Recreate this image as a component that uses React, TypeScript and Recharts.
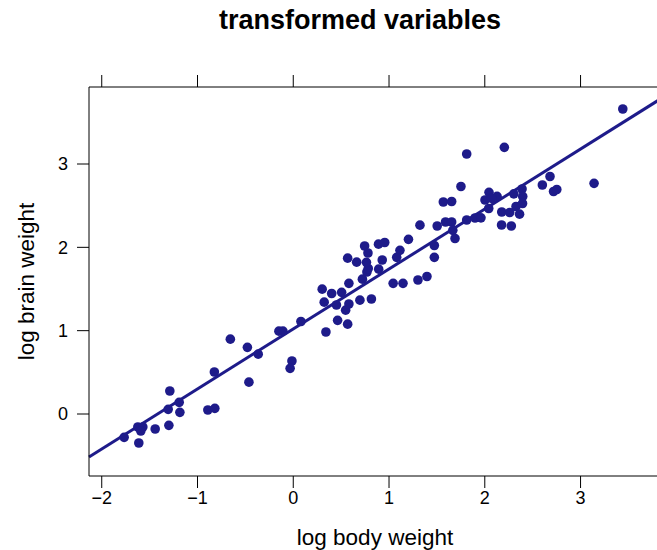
import {
  ScatterChart,
  Scatter,
  XAxis,
  YAxis,
  ReferenceLine,
} from "recharts";

// log10 body weight (kg) and log10 brain weight (g)
const logBody = [
  -1.766, -1.613, -1.623, -1.571, -1.592, -1.442, -1.299, -1.306, -1.289, -1.191,
  -1.184, -0.892, -0.819, -0.824, -0.657, -0.479, -0.366, -0.463, -0.15, -0.108,
  -0.014, -0.033, 0.08, 0.341, 0.463, 0.568, 0.547, 0.581, 0.451, 0.323,
  0.302, 0.401, 0.505, 0.581, 0.696, 0.816, 0.722, 0.769, 0.783, 0.764,
  0.662, 0.568, 0.745, 0.78, 0.89, 0.955, 0.892, 0.929, 1.043, 1.146,
  1.08, 1.114, 1.203, 1.302, 1.396, 1.323, 1.473, 1.473, 1.503, 1.567,
  1.654, 1.59, 1.654, 1.666, 1.689, 1.751, 1.811, 1.898, 1.96, 2.002,
  2.044, 2.041, 2.128, 2.072, 2.177, 2.26, 2.175, 2.277, 2.303, 2.326,
  2.363, 2.389, 2.396, 2.394, 2.601, 2.681, 2.718, 2.752, 3.141, 3.441,
  2.204, 1.811,
];

const logBrain = [
  -0.28, -0.348, -0.156, -0.156, -0.204, -0.18, -0.136, 0.056, 0.276, 0.14,
  0.02, 0.048, 0.068, 0.504, 0.898, 0.8, 0.718, 0.382, 0.994, 0.994,
  0.636, 0.548, 1.11, 0.984, 1.124, 1.078, 1.246, 1.32, 1.308, 1.342,
  1.498, 1.446, 1.46, 1.568, 1.366, 1.38, 1.618, 1.704, 1.746, 1.82,
  1.822, 1.87, 2.016, 1.932, 2.038, 2.058, 1.738, 1.848, 1.568, 1.568,
  1.88, 1.964, 2.096, 1.608, 1.65, 2.266, 2.022, 1.88, 2.256, 2.544,
  2.55, 2.304, 2.304, 2.204, 2.106, 2.73, 2.328, 2.352, 2.354, 2.568,
  2.66, 2.466, 2.612, 2.588, 2.424, 2.418, 2.268, 2.256, 2.642, 2.49,
  2.398, 2.7, 2.61, 2.526, 2.748, 2.85, 2.67, 2.694, 2.768, 3.66,
  3.2, 3.12,
];

// least squares fit drawn over the points
const fitIntercept = 1.02;
const fitSlope = 0.72;

const xTicks = [-2, -1, 0, 1, 2, 3];
const yTicks = [0, 1, 2, 3];
const xDomain: [number, number] = [-2.133, 3.84];
const yDomain: [number, number] = [-0.744, 3.924];

const points = logBody.map((x, i) => ({ x, y: logBrain[i] }));

const ink = "#1e1b8a";
const font = "'Liberation Sans', Arial, Helvetica, sans-serif";

const fmt = (v: number) => (v < 0 ? `\u2212${Math.abs(v)}` : `${v}`);

const Dot = (props: any) => {
  const { cx, cy } = props;
  return <circle cx={cx} cy={cy} r={4.8} fill={ink} />;
};

const NoTick = () => <g />;

export default function App() {
  const lineStart = { x: xDomain[0], y: fitIntercept + fitSlope * xDomain[0] };
  const lineEnd = { x: xDomain[1], y: fitIntercept + fitSlope * xDomain[1] };

  return (
    <div
      style={{
        position: "absolute",
        left: 0,
        top: 0,
        width: 657,
        height: 550,
        overflow: "hidden",
        background: "#fff",
        fontFamily: font,
      }}
    >
      <div
        style={{
          position: "absolute",
          left: 0,
          top: 7,
          width: 720,
          textAlign: "center",
          fontSize: 27,
          lineHeight: "27px",
          fontWeight: "bold",
          color: "#000",
        }}
      >
        transformed variables
      </div>
      <ScatterChart
        width={700}
        height={550}
        margin={{ top: 75, right: 39, bottom: 0, left: 8 }}
        style={{ position: "absolute", left: 0, top: 0, fontFamily: font }}
      >
        <XAxis
          xAxisId={0}
          type="number"
          dataKey="x"
          domain={xDomain}
          allowDataOverflow
          ticks={xTicks}
          tickFormatter={fmt}
          height={74}
          tickSize={12}
          tickMargin={3}
          stroke="#000"
          tick={{ fontSize: 18, fill: "#000" }}
          label={{
            value: "log body weight",
            position: "insideBottom",
            offset: 5,
            fontSize: 22.5,
            fill: "#000",
          }}
        />
        <XAxis
          xAxisId="top"
          orientation="top"
          type="number"
          dataKey="x"
          domain={xDomain}
          allowDataOverflow
          ticks={xTicks}
          height={12}
          tickSize={12}
          stroke="#000"
          tick={NoTick}
        />
        <YAxis
          type="number"
          dataKey="y"
          domain={yDomain}
          allowDataOverflow
          ticks={yTicks}
          tickFormatter={fmt}
          width={81}
          tickSize={12}
          tickMargin={9}
          stroke="#000"
          tick={{ fontSize: 18, fill: "#000" }}
          label={{
            value: "log brain weight",
            angle: -90,
            position: "insideLeft",
            offset: 18,
            fontSize: 22.5,
            fill: "#000",
            style: { textAnchor: "middle" },
          }}
        />
        <Scatter
          data={points}
          shape={Dot}
          fill={ink}
          isAnimationActive={false}
        />
        <ReferenceLine
          segment={[lineStart, lineEnd]}
          stroke={ink}
          strokeWidth={3}
          ifOverflow="visible"
        />
      </ScatterChart>
    </div>
  );
}
